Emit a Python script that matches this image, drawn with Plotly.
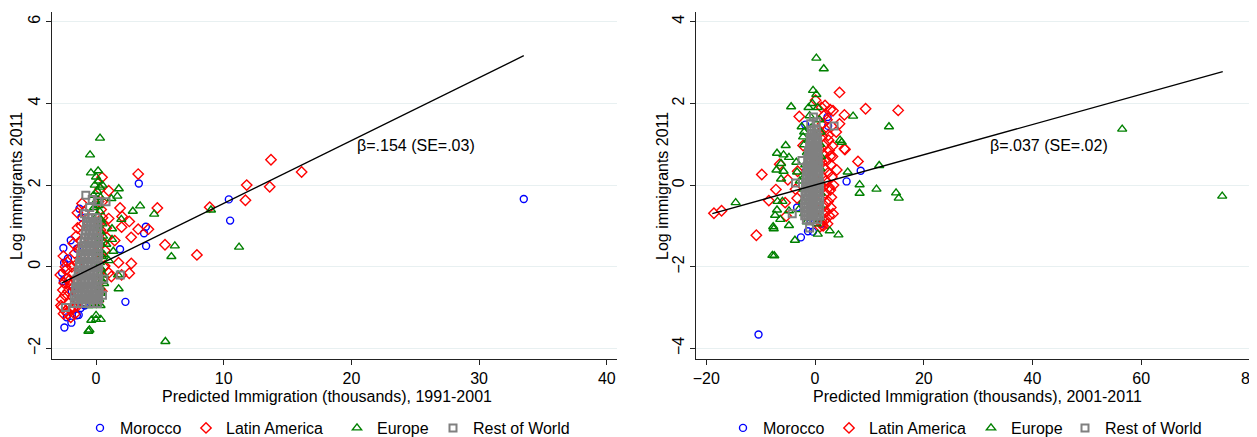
import plotly.graph_objects as go

# ---- panel 1: 1991-2001 -------------------------------------------------------
MOROCCO_91 = [
    (33.5, 1.66), (10.4, 1.65), (10.5, 1.13), (3.35, 2.04), (3.9, 0.98), (3.76, 0.82),
    (3.92, 0.51), (2.3, -0.86), (1.88, 0.43), (-1.3, 1.42), (-1.15, 1.21), (-1.98, 0.65),
    (-2.56, 0.46), (-1.5, 0.44), (-2.5, 0.1), (-2.66, -0.15), (-2.48, -1.49), (-1.93, -1.37),
    (-1.36, -1.18), (-1.2, -1.01), (-2.3, -1.24), (-1.5, -1.19), (-2.6, -0.35), (-1.9, -0.6),
    (-0.9, -0.95), (-2.2, 0.2),
]
LATAM_91 = [
    (13.7, 2.62), (16.1, 2.32), (11.8, 2.0), (13.6, 1.96), (11.7, 1.63), (8.9, 1.46),
    (7.9, 0.29), (5.4, 0.54), (4.8, 1.44), (3.3, 2.27), (4.1, 0.92), (3.3, 0.92),
    (2.75, 0.72), (2.6, 1.11), (2.76, 0.08), (2.6, -0.16), (1.76, 0.1), (2.0, -0.2),
    (1.2, -0.24), (1.0, -0.15), (0.68, 0.02), (2.0, 0.97), (2.04, 1.23), (1.88, 1.44),
    (0.99, 1.86), (0.47, 2.19), (0.47, 1.59), (0.99, 1.18), (0.83, 0.72), (1.46, 0.64),
    (0.31, -0.55), (0.0, -0.83), (0.16, -0.86),
    (-1.46, 1.32), (-0.94, 1.34), (-1.15, 1.0), (-1.2, 0.64), (-2.56, 0.26), (-2.25, 0.12),
    (-1.67, 0.33), (-1.46, 0.08), (-1.78, 0.57), (-1.3, 0.41), (-2.3, -0.06), (-1.78, -0.16),
    (-2.09, -0.33), (-1.72, -0.49), (-1.83, -0.73), (-2.14, -0.9), (-2.45, -0.7), (-2.6, -0.57),
    (-2.7, -0.8), (-2.66, -0.99), (-2.4, -1.09), (-1.98, -1.24), (-1.67, -1.16), (-1.46, -0.96),
    (-2.8, -0.2), (-2.5, -0.4), (-2.2, -0.6), (-2.0, -1.05), (-1.6, -0.3), (-1.5, -0.65),
    (-1.9, 0.0), (-2.3, -0.3), (-1.25, -0.2), (-1.35, -0.85), (-2.75, -0.95), (-2.55, -1.15),
    (-2.2, -1.15), (-1.75, -1.0), (-1.55, 0.75), (-1.1, 0.2), (-1.2, -0.5), (-2.0, -0.45),
    (-2.4, 0.0), (-1.45, 0.95), (-1.1, 1.55),
    (0.3, 1.9), (0.4, 1.4), (0.5, 1.2), (0.35, 0.9), (0.55, 0.6), (0.4, 0.3), (0.6, 0.0),
    (0.5, -0.3), (0.35, -0.1), (0.3, 1.1), (0.25, 0.5), (0.7, 0.4), (0.45, -0.6), (0.8, 0.95),
    (0.2, 1.6),
]
EUROPE_91 = [
    (0.31, 3.15), (-0.47, 2.74), (0.16, 2.35), (1.78, 1.91), (1.67, 1.73), (1.2, 1.67),
    (3.45, 1.49), (2.88, 1.36), (4.55, 1.29), (1.98, 1.16), (1.25, 0.93), (1.25, 0.67),
    (6.17, 0.51), (5.9, 0.25), (11.2, 0.48), (9.0, 1.39), (5.43, -1.83), (1.35, 0.38),
    (1.72, -0.2), (1.77, -0.54), (0.0, -1.29), (-0.37, -1.31), (0.37, -1.29), (-0.52, -1.55),
    (-0.6, -1.58), (0.63, -0.41), (0.0, -1.19), (1.0, 0.15), (0.8, 0.55),
    (0.0, 2.2), (0.2, 2.1), (-0.1, 2.0), (0.3, 1.95), (0.1, 1.85), (-0.2, 1.75), (0.35, 1.7),
    (0.0, 1.6), (0.2, 1.5), (-0.15, 1.45), (0.3, 1.35), (0.1, 1.25), (0.4, 1.15), (0.2, 1.0),
    (0.35, 0.85), (0.25, 0.7), (0.4, 0.55), (0.3, 0.4), (0.45, 0.25), (0.3, 0.1), (0.4, -0.05),
    (0.3, -0.2), (0.45, -0.35), (0.3, -0.5), (0.4, -0.65), (0.25, -0.8), (0.35, -0.95),
    (0.1, -0.9), (-0.3, -0.95), (-0.6, -0.95), (0.5, 1.05), (0.55, 0.75), (0.6, 0.3),
    (0.6, -0.2), (-0.4, 2.3), (0.5, 2.0),
]
# rest of world: (y, [x ...]) rows of the dense column, then the loose ones
REST_91_ROWS = [
    (-0.9, [-1.7, -1.4, -1.1, -0.8, -0.5, -0.2, 0.1]),
    (-0.8, [-1.55, -1.25, -0.95, -0.65, -0.35, -0.05, 0.2]),
    (-0.7, [-1.7, -1.4, -1.1, -0.8, -0.5, -0.2, 0.1]),
    (-0.6, [-1.5, -1.2, -0.9, -0.6, -0.3, 0.0, 0.25]),
    (-0.5, [-1.6, -1.3, -1.0, -0.7, -0.4, -0.1, 0.15]),
    (-0.4, [-1.45, -1.15, -0.85, -0.55, -0.25, 0.05]),
    (-0.3, [-1.5, -1.2, -0.9, -0.6, -0.3, 0.0, 0.2]),
    (-0.2, [-1.35, -1.05, -0.75, -0.45, -0.15, 0.15]),
    (-0.1, [-1.4, -1.1, -0.8, -0.5, -0.2, 0.1]),
    (0.0, [-1.25, -0.95, -0.65, -0.35, -0.05, 0.2]),
    (0.1, [-1.3, -1.0, -0.7, -0.4, -0.1, 0.15]),
    (0.2, [-1.15, -0.85, -0.55, -0.25, 0.05]),
    (0.3, [-1.2, -0.9, -0.6, -0.3, 0.0, 0.2]),
    (0.4, [-1.05, -0.75, -0.45, -0.15, 0.15]),
    (0.5, [-1.1, -0.8, -0.5, -0.2, 0.1]),
    (0.6, [-0.95, -0.65, -0.35, -0.05, 0.2]),
    (0.7, [-0.9, -0.6, -0.3, 0.0, 0.2]),
    (0.8, [-0.85, -0.55, -0.25, 0.05]),
    (0.9, [-0.8, -0.5, -0.2, 0.1]),
    (1.0, [-0.7, -0.4, -0.1, 0.15]),
    (1.1, [-0.75, -0.45, -0.15, 0.1]),
    (1.2, [-0.6, -0.3, 0.0]),
]
REST_91_LOOSE = [
    (-0.8, 1.75), (-0.5, 1.45), (0.1, 1.6), (-0.9, 1.3), (0.78, 1.59), (-0.3, 1.65),
    (0.5, -0.7), (0.6, -0.3), (1.9, -0.2), (-2.4, -1.0),
]
FIT_91_X = [-2.7, 33.5]
FIT_91_Y = [-0.40, 5.17]
LABEL_91 = "β=.154 (SE=.03)"

# ---- panel 2: 2001-2011 -------------------------------------------------------
MOROCCO_01 = [
    (-10.4, -3.66), (-3.3, -0.55), (-2.6, -1.28), (-1.3, -1.13), (-0.4, -1.14), (0.0, -0.91),
    (-0.8, -0.86), (5.8, 0.09), (8.4, 0.35), (-1.7, 0.34), (2.4, 1.45), (2.3, 1.67),
    (-1.8, 1.48), (1.2, -0.95), (-1.0, 0.8),
]
LATAM_01 = [
    (4.5, 2.27), (9.3, 1.87), (15.3, 1.83), (-2.9, 1.68), (5.4, 1.72), (4.5, 1.5), (3.9, 1.3),
    (1.84, 1.95), (2.8, 1.85), (3.3, 1.82), (2.44, 1.22), (0.1, 2.08), (5.5, 0.87), (3.2, 0.96),
    (2.8, 0.71), (7.9, 0.58), (4.0, 0.37), (5.4, 0.89), (-2.2, 0.97), (-6.5, 0.51), (-9.8, 0.26),
    (-7.2, -0.11), (-8.5, -0.38), (-5.5, -0.43), (-5.0, 0.13), (-5.3, -0.76), (-10.8, -1.23),
    (-18.6, -0.69), (-17.2, -0.63), (-3.3, -0.32), (-3.6, -0.1), (-3.2, 0.34), (2.8, -0.12),
    (1.2, 1.9), (1.6, 1.7), (2.2, 1.6), (1.4, 1.5), (2.0, 1.35), (1.3, 1.2), (2.5, 1.1),
    (1.8, 1.0), (1.2, 0.9), (2.6, 0.85), (1.6, 0.75), (2.2, 0.6), (1.3, 0.55), (2.9, 0.5),
    (1.8, 0.4), (2.4, 0.3), (1.4, 0.2), (3.1, 0.2), (2.0, 0.1), (1.5, -0.05), (2.6, -0.05),
    (1.9, -0.2), (3.0, -0.3), (1.4, -0.3), (2.4, -0.4), (1.7, -0.5), (2.9, -0.55), (2.1, -0.65),
    (1.5, -0.7), (2.6, -0.75), (1.9, -0.85), (1.2, -0.9), (2.3, -0.95), (1.5, -1.0), (1.0, -0.6),
    (1.0, 0.0), (1.0, 0.6), (1.0, 1.3), (3.4, 0.0), (3.3, -0.7), (3.2, 0.7), (0.9, -1.02),
    (1.3, -0.98),
]
EUROPE_01 = [
    (0.24, 3.11), (1.6, 2.85), (-0.37, 2.32), (0.24, 2.22), (-4.4, 1.92), (7.0, 1.69),
    (13.6, 1.43), (56.5, 1.37), (74.9, -0.27), (-5.4, 0.97), (-7.0, 0.78), (-5.8, 0.74),
    (-4.8, 0.68), (-3.44, 0.56), (-6.25, 0.53), (-7.1, 0.37), (-5.8, 0.34), (-3.3, 0.32),
    (-6.25, 0.15), (-14.6, -0.43), (-6.9, -0.4), (-6.0, -0.4), (-7.0, -0.61), (-4.8, -0.63),
    (-7.35, -0.74), (-6.4, -0.84), (-4.8, -0.99), (-7.7, -1.02), (-7.6, -1.07), (-3.7, -1.35),
    (0.5, -1.2), (2.7, -1.12), (4.3, -1.22), (-7.85, -1.72), (-7.5, -1.73), (6.0, 0.32),
    (8.2, 0.01), (8.2, -0.2), (11.3, -0.1), (11.8, 0.48), (14.9, -0.19), (15.4, -0.32),
    (4.9, 1.05), (4.6, 1.1), (-2.0, 0.99), (-2.46, 1.43), (-2.2, 1.18), (-3.0, -0.6),
    (-2.8, 0.1),
    (-0.5, 2.0), (0.5, 1.9), (-1.0, 1.7), (0.8, 1.6), (-0.7, 1.4), (1.0, 1.3), (-1.2, 1.1),
    (0.9, 1.0), (-1.5, 0.8), (1.1, 0.7), (-1.8, 0.5), (1.0, 0.4), (-2.0, 0.2), (0.9, 0.1),
    (-2.1, -0.1), (1.0, -0.2), (-2.2, -0.4), (0.9, -0.5), (-2.0, -0.7), (0.8, -0.8),
    (-1.5, -0.9), (0.3, -0.95), (-1.2, 1.9), (-2.0, 1.3),
]
REST_01_ROWS = [
    (-0.85, [-1.6, -0.9, -0.2, 0.5]),
    (-0.75, [-1.9, -1.25, -0.55, 0.15, 0.85]),
    (-0.65, [-1.6, -0.9, -0.2, 0.5]),
    (-0.55, [-1.95, -1.25, -0.55, 0.15, 0.85]),
    (-0.45, [-1.6, -0.9, -0.2, 0.5]),
    (-0.35, [-1.9, -1.25, -0.55, 0.15, 0.85]),
    (-0.25, [-1.6, -0.9, -0.2, 0.5]),
    (-0.15, [-1.85, -1.2, -0.55, 0.15, 0.8]),
    (-0.05, [-1.5, -0.85, -0.2, 0.5]),
    (0.05, [-1.75, -1.15, -0.5, 0.15, 0.8]),
    (0.15, [-1.45, -0.85, -0.2, 0.5]),
    (0.25, [-1.6, -1.1, -0.5, 0.15, 0.75]),
    (0.35, [-1.35, -0.8, -0.2, 0.45]),
    (0.45, [-1.5, -1.0, -0.45, 0.1, 0.7]),
    (0.55, [-1.25, -0.75, -0.2, 0.4]),
    (0.65, [-1.35, -0.9, -0.4, 0.1, 0.6]),
    (0.75, [-1.1, -0.65, -0.15, 0.35]),
    (0.85, [-1.2, -0.8, -0.35, 0.1, 0.55]),
    (0.95, [-1.0, -0.55, -0.1, 0.3]),
    (1.05, [-0.8, -0.35, 0.1, 0.5]),
    (1.15, [-0.9, -0.45, 0.0, 0.4]),
    (1.25, [-0.6, -0.15, 0.3]),
    (1.35, [-0.7, -0.2, 0.25]),
]
REST_01_LOOSE = [
    (-0.3, 1.67), (0.2, 1.55), (-0.8, 1.5), (3.5, 1.45), (-2.4, 0.6), (-3.6, 0.05),
    (-4.2, -0.7), (-1.0, -1.05),
]
FIT_01_X = [-18.9, 75.0]
FIT_01_Y = [-0.70, 2.78]
LABEL_01 = "β=.037 (SE=.02)"

GROUPS = ["Morocco", "Latin America", "Europe", "Rest of World"]
COLORS = {"Morocco": "#0000ff", "Latin America": "#ff0000",
          "Europe": "#008000", "Rest of World": "#808080"}
# symbol, size, outline width
SYMBOLS = {"Morocco": ("circle-open", 7, 1.4), "Latin America": ("diamond-open", 8, 1.4),
           "Europe": ("triangle-up-open", 8, 1.4), "Rest of World": ("square-open", 7, 2.0)}

FONT = "Arial, Liberation Sans, sans-serif"
FS = 16
W, H = 1257, 437
OFF = 8  # the page body margin pushes the figure 8px right and down


def flatten_rows(rows, loose):
    pts = [(x, y) for y, xs in rows for x in xs]
    return pts + list(loose)


def px_x(p):
    return (p - OFF) / W


def px_y(p):
    return (H - (p - OFF)) / H


fig = go.Figure()

panels = [
    ("x", "y", {"Morocco": MOROCCO_91, "Latin America": LATAM_91, "Europe": EUROPE_91,
                "Rest of World": flatten_rows(REST_91_ROWS, REST_91_LOOSE)},
     FIT_91_X, FIT_91_Y, ["legend", "legend2", "legend3", "legend4"]),
    ("x2", "y2", {"Morocco": MOROCCO_01, "Latin America": LATAM_01, "Europe": EUROPE_01,
                  "Rest of World": flatten_rows(REST_01_ROWS, REST_01_LOOSE)},
     FIT_01_X, FIT_01_Y, ["legend5", "legend6", "legend7", "legend8"]),
]

for xa, ya, data, fx, fy, legs in panels:
    for g, leg in zip(GROUPS, legs):
        pts = data[g]
        sym, size, lw = SYMBOLS[g]
        fig.add_trace(go.Scatter(
            x=[p[0] for p in pts], y=[p[1] for p in pts], mode="markers",
            name=g, xaxis=xa, yaxis=ya, legend=leg,
            marker=dict(symbol=sym, size=size, color=COLORS[g],
                        line=dict(color=COLORS[g], width=lw)),
            hoverinfo="skip",
        ))
    fig.add_trace(go.Scatter(
        x=fx, y=fy, mode="lines", xaxis=xa, yaxis=ya, showlegend=False,
        line=dict(color="black", width=1.4), hoverinfo="skip",
    ))

axis_common = dict(
    showline=True, linecolor="#222", linewidth=1, mirror=False,
    ticks="outside", ticklen=5, tickwidth=1, tickcolor="#222",
    tickfont=dict(family=FONT, size=FS, color="black"), zeroline=False,
)
y0, y1 = px_y(359), px_y(12)

fig.update_layout(
    width=W, height=H, margin=dict(l=0, r=0, t=0, b=0, autoexpand=False),
    paper_bgcolor="white", plot_bgcolor="white",
    font=dict(family=FONT, size=FS, color="black"),
    xaxis=dict(domain=[px_x(52), px_x(617)], range=[-3.45, 40.8],
               tickvals=[0, 10, 20, 30, 40], showgrid=False, anchor="y", **axis_common),
    yaxis=dict(domain=[y0, y1], range=[-2.26, 6.24], tickvals=[-2, 0, 2, 4, 6],
               tickangle=-90, showgrid=True, gridcolor="#e8f0f1", gridwidth=1,
               anchor="x", **axis_common),
    xaxis2=dict(domain=[px_x(696), px_x(1257)], range=[-21.9, 81.3],
                tickvals=[-20, 0, 20, 40, 60, 80], showgrid=False, anchor="y2", **axis_common),
    yaxis2=dict(domain=[y0, y1], range=[-4.26, 4.24], tickvals=[-4, -2, 0, 2, 4],
                tickangle=-90, showgrid=True, gridcolor="#e8f0f1", gridwidth=1,
                anchor="x2", **axis_common),
    showlegend=True,
)

# one single-entry legend per key so each sits where it does in the original
LEG_X = [107, 213, 364, 460, 750, 856, 998, 1092]
for i, mx in enumerate(LEG_X):
    key = "legend" if i == 0 else f"legend{i + 1}"
    fig.update_layout({key: dict(
        x=px_x(mx - 27), xanchor="left", y=px_y(428), yanchor="middle",
        orientation="h", bgcolor="rgba(0,0,0,0)", borderwidth=0,
        font=dict(family=FONT, size=FS, color="black"), itemwidth=30,
    )})

# axis titles and slope labels
for x, y, txt, ang in [
    (327, 396, "Predicted Immigration (thousands), 1991-2001", 0),
    (977, 396, "Predicted Immigration (thousands), 2001-2011", 0),
    (16, 186, "Log immigrants 2011", -90),
    (662, 186, "Log immigrants 2011", -90),
]:
    fig.add_annotation(x=px_x(x), y=px_y(y), xref="paper", yref="paper",
                       text=txt, showarrow=False, textangle=ang,
                       xanchor="center", yanchor="middle",
                       font=dict(family=FONT, size=FS, color="black"))

fig.add_annotation(x=20.3, y=2.98, xref="x", yref="y", text=LABEL_91, showarrow=False,
                   xanchor="left", yanchor="middle", font=dict(family=FONT, size=FS))
fig.add_annotation(x=31.9, y=0.98, xref="x2", yref="y2", text=LABEL_01, showarrow=False,
                   xanchor="left", yanchor="middle", font=dict(family=FONT, size=FS))

fig.write_html("out.html")
